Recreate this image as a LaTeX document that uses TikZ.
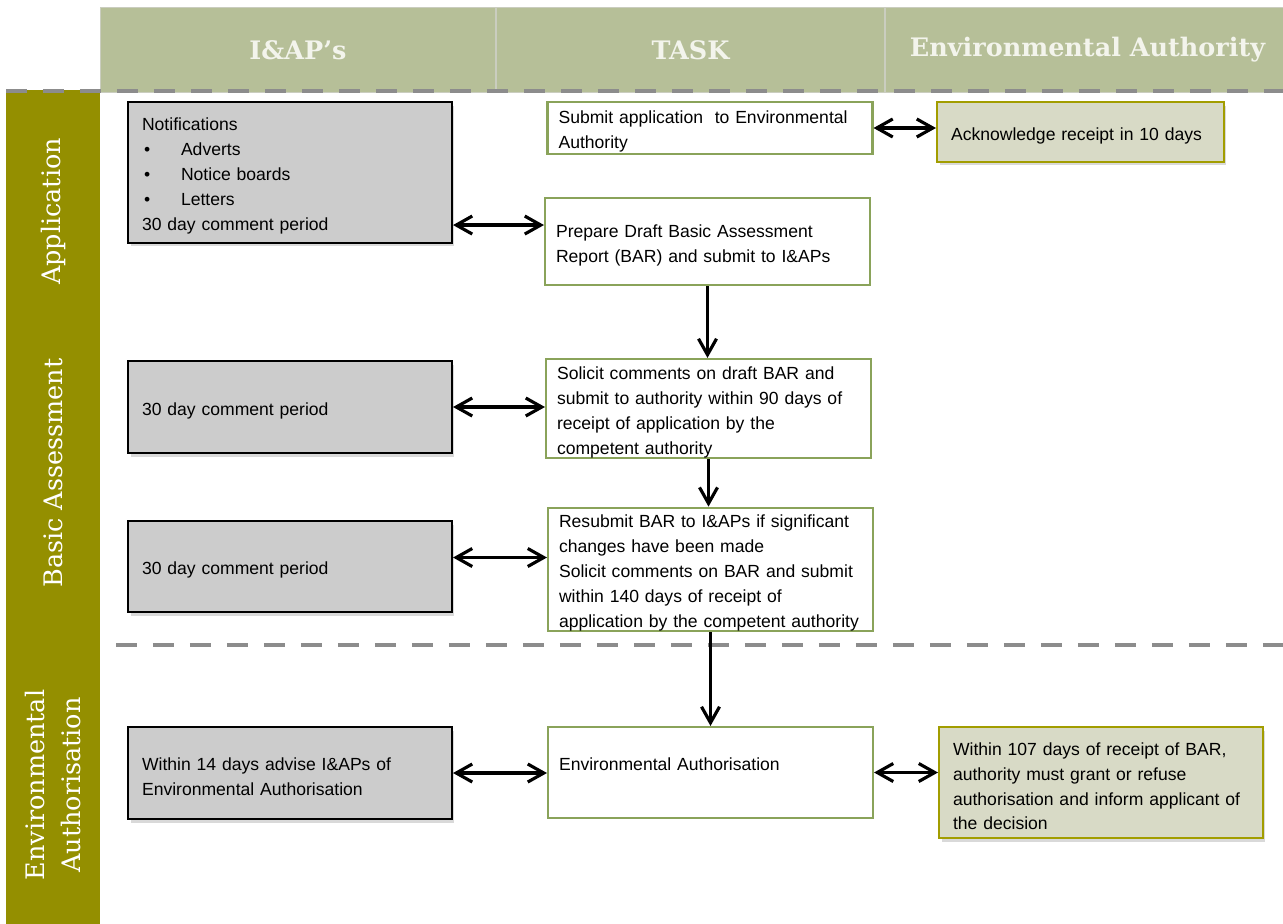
\documentclass[tikz,border=0pt]{standalone}
\usepackage{fontspec}
\setmainfont{Liberation Sans}
\newfontfamily\slabfont{DejaVu Serif}
\usetikzlibrary{arrows.meta,shadows}

\definecolor{hdrgreen}{HTML}{B6BF98}
\definecolor{hdrline}{HTML}{CACDBF}
\definecolor{hdrtext}{HTML}{F3F4EC}
\definecolor{laneolive}{HTML}{948F00}
\definecolor{boxgray}{HTML}{CCCCCC}
\definecolor{taskgreen}{HTML}{8AA35A}
\definecolor{authfill}{HTML}{D8DAC6}
\definecolor{authline}{HTML}{A29D00}
\definecolor{dashgray}{HTML}{8C8C8C}

\newcommand{\bulletitem}[1]{\hspace{0.04cm}\makebox[0.74cm][l]{\textbullet}#1}

\begin{document}
\begin{tikzpicture}[x=0.02cm, y=-0.02cm, >={Straight Barb[length=3.2mm,width=3.6mm]},
    header/.style={draw=hdrline, fill=hdrgreen, line width=0.6pt, minimum height=1.7cm, inner sep=0pt,
        text=hdrtext, font=\slabfont\bfseries\fontsize{14.5}{18}\selectfont},
    lane/.style={fill=laneolive, rotate=90, minimum height=1.88cm, inner sep=0pt, text=white,
        align=center, font=\slabfont\fontsize{14.5}{20}\selectfont},
    boxtext/.style={inner ysep=0pt, align=left, font=\fontsize{10}{14.2}\selectfont,
        execute at begin node={\rule{0pt}{11.5pt}}},
    party/.style={boxtext, draw=black, fill=boxgray, line width=1.2pt, minimum width=6.48cm, text width=5.92cm,
        inner xsep=0.28cm, drop shadow={opacity=0.3, shadow xshift=0.05cm, shadow yshift=-0.07cm}},
    task/.style={boxtext, draw=taskgreen, fill=white, line width=1.2pt, minimum width=6.5cm, text width=6.06cm,
        inner xsep=0.22cm},
    auth/.style={boxtext, draw=authline, fill=authfill, line width=1.2pt, inner xsep=0.28cm,
        drop shadow={opacity=0.3, shadow xshift=0.05cm, shadow yshift=-0.07cm}},
    sep/.style={dashgray, line width=2.3pt, dash pattern=on 0.42cm off 0.32cm},
    link/.style={line width=1.8pt}]
    \useasboundingbox (0,0) rectangle (1283,923);

    % column headers
    \node[header, minimum width=7.92cm] (hdrI) at (298,50) {I\&AP’s};
    \node[header, minimum width=7.78cm] (hdrT) at (690.5,50) {TASK};
    \node[header, minimum width=8.1cm] (hdrE) at (1087.5,50) {Environmental Authority};

    % phase bars
    \node[lane, minimum width=4.86cm] (laneA) at (53,211.5) {Application};
    \node[lane, minimum width=6.8cm] (laneB) at (53,473) {Basic Assessment};
    \node[lane, minimum width=5.68cm] (laneE) at (53,785) {Environmental\\Authorisation};

    \draw[sep] (6,91) -- (1283,91);
    \draw[sep] (116,645) -- (1283,645);

    % I&AP's
    \node[party, minimum height=2.82cm] (notify) at (290,172.5)
        {Notifications\\\bulletitem{Adverts}\\\bulletitem{Notice boards}\\\bulletitem{Letters}\\30 day comment period};
    \node[party, minimum height=1.84cm] (comment1) at (290,407) {30 day comment period};
    \node[party, minimum height=1.82cm] (comment2) at (290,566.5) {30 day comment period};
    \node[party, minimum height=1.84cm] (advise) at (290,773)
        {Within 14 days advise I\&APs of\\Environmental Authorisation};

    % tasks
    \node[task, minimum height=1.04cm] (submit) at (710,128)
        {Submit application\ \ to Environmental\\Authority};
    \node[task, minimum height=1.74cm] (draft) at (707.5,241.5)
        {Prepare Draft Basic Assessment\\Report (BAR) and submit to I\&APs};
    \node[task, minimum height=1.98cm] (solicit) at (708.5,408.5)
        {Solicit comments on draft BAR and\\submit to authority within 90 days of\\receipt of application by the\\competent authority};
    \node[task, minimum height=2.46cm] (resubmit) at (710.5,569.5)
        {Resubmit BAR to I\&APs if significant\\changes have been made\\Solicit comments on BAR and submit\\within 140 days of receipt of\\application by the competent authority};
    \node[task, minimum height=1.82cm] (ea) at (710.5,772.5) {Environmental Authorisation\\~};

    % environmental authority
    \node[auth, minimum width=5.74cm, text width=5.18cm, minimum height=1.2cm] (ack) at (1080.5,132)
        {Acknowledge receipt in 10 days};
    \node[auth, minimum width=6.48cm, text width=5.92cm, minimum height=2.22cm] (decide) at (1101,782.5)
        {Within 107 days of receipt of BAR,\\authority must grant or refuse\\authorisation and inform applicant of\\the decision};

    \coordinate (n1) at ([yshift=0.38cm]notify.south east);
    \coordinate (c2) at ([yshift=0.18cm]comment2.east);

    \draw[link, <->] (submit.east) -- (submit.east -| ack.west);
    \draw[link, <->] (n1) -- (n1 -| draft.west);
    \draw[link, ->] (draft.south) -- (draft.south |- solicit.north);
    \draw[link, <->] (comment1.east) -- (comment1.east -| solicit.west);
    \draw[link, ->] (solicit.south) -- (solicit.south |- resubmit.north);
    \draw[link, <->] (c2) -- (c2 -| resubmit.west);
    \draw[link, ->] (resubmit) -- (ea);
    \draw[link, <->] (advise.east) -- (advise.east -| ea.west);
    \draw[link, <->] (ea.east) -- (ea.east -| decide.west);
\end{tikzpicture}
\end{document}
